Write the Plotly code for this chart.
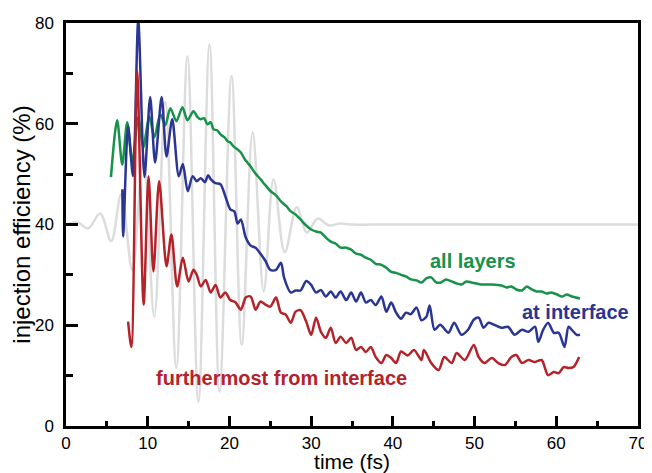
import plotly.graph_objects as go

# gray reference field (extrema)
time_field = [0.2, 1.35, 2.7, 4.18, 5.53, 6.75, 8.1, 9.46, 10.8, 12.16, 13.5, 14.86, 16.2,
              17.56, 18.79, 20.26, 21.5, 22.84, 24.2, 25.4, 26.77, 28.24, 29.47, 30.82,
              32.17, 33.5, 35.0, 40.0, 50.0, 60.0, 70.0]
field = [40.0, 40.5, 39.2, 42.2, 36.7, 46.0, 31.0, 54.0, 21.7, 64.3, 11.5, 73.4, 4.8,
         75.8, 6.8, 69.5, 16.1, 58.3, 26.7, 49.0, 34.5, 43.4, 38.4, 41.2,
         39.8, 40.2, 40.0, 40.0, 40.0, 40.0, 40.0]

# all layers (green)
time_all = [5.5, 6.26, 6.88, 7.49, 8.11, 8.84, 9.46, 10.19, 10.81, 11.54, 12.16, 12.77, 13.51,
            14.25, 14.86, 15.6, 16.1, 16.46, 16.9, 17.3, 17.7, 18.05, 18.5, 18.9, 19.4, 19.8,
            20.1, 20.5, 21.0, 21.4, 21.9, 22.2, 22.6, 23.0, 23.3, 23.8, 24.3, 25.05, 25.7,
            26.3, 27.0, 27.5, 28.1, 28.7, 29.4, 30.0, 30.6, 31.2, 31.8, 32.4, 33.0, 33.6,
            34.3, 34.9, 35.5, 36.1, 36.7, 37.3, 37.9, 38.6, 39.2, 39.8, 40.4, 41.0, 41.6,
            42.2, 42.9, 43.5, 44.1, 44.7, 45.3, 45.9, 46.5, 47.2, 47.8, 48.4, 49.0, 49.6,
            50.2, 50.8, 52.1, 53.3, 53.9, 54.5, 55.1, 55.8, 56.4, 57.0, 57.6, 58.2, 58.8,
            59.4, 60.1, 60.7, 61.3, 61.9, 62.9]
eff_all = [49.4, 60.7, 51.9, 60.3, 52.3, 61.3, 55.3, 61.5, 57.3, 61.9, 59.7, 63.1, 60.5,
           63.3, 60.7, 62.5, 61.3, 60.9, 61.1, 59.9, 60.3, 58.9, 58.7, 57.9, 57.3, 56.5,
           56.3, 55.5, 54.9, 54.3, 52.9, 52.3, 51.5, 50.5, 49.9, 49.0, 48.0, 46.6, 45.8,
           44.6, 43.6, 42.6, 42.0, 41.0, 39.8, 39.0, 38.6, 38.4, 37.4, 36.6, 36.2, 35.4,
           35.4, 35.0, 34.2, 34.0, 33.4, 33.0, 32.2, 32.0, 31.4, 30.6, 30.4, 30.0, 29.7,
           29.1, 28.9, 28.5, 29.3, 29.5, 28.5, 28.5, 29.1, 28.7, 28.3, 28.1, 28.7, 28.5,
           28.3, 28.1, 28.1, 27.9, 27.5, 27.7, 27.1, 26.9, 27.7, 27.1, 26.7, 26.7, 26.3,
           26.5, 26.1, 25.7, 26.1, 25.7, 25.3]

# at interface (blue)
time_int = [6.9, 7.0, 7.6, 8.2, 8.84, 9.6, 10.3, 10.9, 11.7, 12.3, 13.0, 13.8, 14.3, 14.9,
            15.5, 16.0, 16.5, 17.0, 17.4, 17.7, 18.3, 18.9, 19.5, 20.1, 20.6, 21.0, 21.4,
            22.0, 22.6, 23.2, 23.8, 24.4, 25.0, 25.7, 26.3, 26.7, 27.5, 28.1, 28.7, 29.4,
            30.0, 30.6, 31.2, 31.8, 32.4, 33.0, 33.6, 34.3, 34.9, 35.5, 36.1, 36.7, 37.3,
            37.9, 38.6, 39.2, 39.8, 40.4, 41.0, 41.6, 42.2, 42.9, 43.5, 44.1, 44.5, 45.1,
            45.8, 46.8, 47.5, 48.4, 49.2, 49.9, 50.5, 51.1, 51.7, 52.4, 53.3, 54.1, 54.9,
            55.8, 56.6, 57.4, 57.8, 58.4, 59.0, 59.7, 60.3, 61.0, 61.5, 61.9, 62.5, 62.9]
eff_int = [47.0, 37.6, 59.5, 49.6, 80.5, 49.4, 65.3, 52.3, 65.3, 53.5, 60.9, 49.6, 52.0, 46.6,
           49.6, 48.6, 49.2, 48.4, 49.8, 49.0, 48.2, 48.0, 45.6, 43.0, 42.6, 40.2, 41.0,
           37.4, 35.8, 35.4, 34.2, 32.8, 31.0, 31.0, 32.4, 29.4, 26.5, 26.9, 26.9, 28.8,
           28.0, 26.5, 27.0, 25.7, 26.7, 25.5, 26.7, 25.0, 26.5, 24.7, 26.5, 24.5, 25.0,
           24.0, 25.7, 22.7, 24.5, 22.5, 21.3, 22.5, 22.2, 23.5, 21.0, 21.7, 23.9, 19.1,
           20.1, 18.5, 20.5, 18.1, 19.1, 21.1, 21.5, 19.5, 20.5, 20.1, 19.5, 19.7, 18.1,
           19.1, 18.7, 19.7, 16.7, 19.1, 20.5, 18.5, 18.5, 15.7, 19.7, 19.1, 18.1, 18.1]

# furthermost from interface (red)
time_far = [7.6, 8.0, 8.7, 9.5, 10.1, 10.7, 11.4, 12.3, 12.9, 13.6, 14.3, 15.0, 15.6, 16.0,
            16.5, 17.1, 17.7, 18.3, 18.9, 19.5, 20.1, 20.7, 21.4, 22.0, 22.6, 23.2, 23.8,
            24.4, 25.0, 25.7, 26.3, 26.9, 27.5, 28.1, 28.7, 29.4, 30.0, 30.6, 31.2, 31.8,
            32.4, 33.0, 33.6, 34.3, 34.9, 35.5, 36.1, 36.7, 37.3, 37.9, 38.6, 39.2, 39.8,
            40.4, 41.0, 41.8, 42.6, 43.5, 43.8, 44.7, 45.6, 46.3, 47.2, 47.8, 48.8, 49.9,
            50.5, 51.2, 52.1, 52.9, 53.7, 54.5, 55.1, 55.8, 56.6, 57.4, 58.2, 59.0, 59.7,
            60.3, 60.9, 61.5, 62.1, 62.8]
eff_far = [20.7, 15.7, 70.4, 24.1, 49.6, 30.7, 48.6, 31.7, 38.0, 27.7, 33.4, 28.7, 31.0, 30.0,
           27.7, 29.0, 26.5, 28.0, 25.5, 26.5, 25.0, 24.6, 23.1, 25.5, 25.7, 23.1, 24.7,
           24.1, 23.7, 25.5, 22.5, 22.1, 20.5, 22.7, 23.0, 20.7, 18.1, 21.5, 18.7, 17.5,
           19.5, 16.5, 17.7, 16.5, 17.5, 15.1, 15.7, 14.7, 15.7, 13.7, 12.5, 14.1, 13.5,
           12.5, 14.8, 14.0, 15.1, 13.1, 15.1, 12.5, 11.1, 13.7, 12.5, 14.5, 13.1, 16.1,
           13.7, 12.5, 13.5, 12.5, 12.1, 13.7, 14.1, 12.5, 13.1, 12.7, 13.1, 10.1, 10.7,
           10.5, 11.7, 11.5, 11.7, 13.7]

GRAY = "#dcdcdc"
GREEN = "#17924a"
BLUE = "#2a3594"
RED = "#b5232a"
FONT = "Liberation Sans, Arial, Helvetica, sans-serif"

fig = go.Figure()
fig.add_trace(go.Scatter(x=time_field, y=field, mode="lines",
                         line=dict(color=GRAY, width=2.5, shape="spline", smoothing=1.0),
                         hoverinfo="skip"))
fig.add_trace(go.Scatter(x=time_all, y=eff_all, mode="lines",
                         line=dict(color=GREEN, width=2.5, shape="spline", smoothing=0.8)))
fig.add_trace(go.Scatter(x=time_int, y=eff_int, mode="lines",
                         line=dict(color=BLUE, width=2.5, shape="spline", smoothing=0.8)))
fig.add_trace(go.Scatter(x=time_far, y=eff_far, mode="lines",
                         line=dict(color=RED, width=2.5, shape="spline", smoothing=0.8)))

fig.add_annotation(x=49.8, y=32.8, text="<b>all layers</b>", showarrow=False,
                   font=dict(color=GREEN, size=20, family=FONT))
fig.add_annotation(x=62.4, y=22.7, text="<b>at interface</b>", showarrow=False,
                   font=dict(color=BLUE, size=20, family=FONT))
fig.add_annotation(x=26.4, y=9.6, text="<b>furthermost from interface</b>", showarrow=False,
                   font=dict(color=RED, size=20, family=FONT))

axis_common = dict(showgrid=False, zeroline=False, showline=True, linecolor="black",
                   linewidth=2.5, mirror=True, ticks="inside", tickcolor="black",
                   tickwidth=2.5, automargin=False,
                   tickfont=dict(size=17, color="black", family=FONT))

fig.update_xaxes(range=[0, 70], tick0=0, dtick=10, ticklen=10, ticklabelstandoff=0,
                 minor=dict(dtick=5, ticks="inside", ticklen=5, tickwidth=2.5, tickcolor="black"),
                 title=dict(text="time (fs)", font=dict(size=21, color="black", family=FONT),
                            standoff=0),
                 **axis_common)
fig.update_yaxes(range=[0, 80], tick0=0, dtick=20, ticklen=12, ticklabelstandoff=6,
                 minor=dict(dtick=10, ticks="inside", ticklen=7, tickwidth=2.5, tickcolor="black"),
                 title=dict(text="injection efficiency (%)",
                            font=dict(size=24, color="black", family=FONT), standoff=2),
                 **axis_common)

# the page adds an 8 px body margin, so the figure is sized to fit the window
fig.update_layout(width=644, height=465, showlegend=False,
                  margin=dict(l=58, r=14, t=15, b=47),
                  plot_bgcolor="white", paper_bgcolor="white")

fig.write_html("out.html")
